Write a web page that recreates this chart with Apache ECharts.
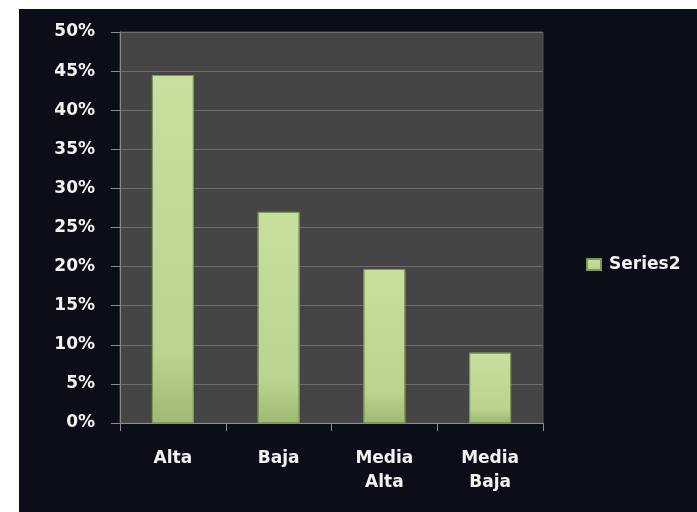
<!DOCTYPE html>
<html>
<head>
<meta charset="utf-8">
<script src="https://cdn.jsdelivr.net/npm/echarts@6/dist/echarts.min.js"></script>
<style>
  html, body { margin: 0; padding: 0; background: #ffffff; }
  #chart { position: absolute; left: 19px; top: 9px; width: 678px; height: 503px; background: #0b0d18; }
</style>
</head>
<body>
<div id="chart"></div>
<script>
// datos
var categories = ['Alta', 'Baja', 'Media\nAlta', 'Media\nBaja'];
var series2 = [44.5, 27.0, 19.7, 9.0];
var seriesName = 'Series2';

var myChart = echarts.init(document.getElementById('chart'));

var barColor = new echarts.graphic.LinearGradient(0, 0, 0, 1, [
    { offset: 0, color: '#c8df9f' },
    { offset: 0.8, color: '#bad390' },
    { offset: 1, color: '#9fb872' }
]);

var option = {
    backgroundColor: '#0b0d18',
    textStyle: { fontFamily: 'DejaVu Sans' },
    grid: {
        left: 101, top: 23, width: 423, height: 391,
        show: true, backgroundColor: '#454545', borderColor: '#555555', borderWidth: 1
    },
    legend: {
        data: [seriesName],
        orient: 'vertical',
        left: 567, top: 247,
        padding: 0,
        icon: 'rect',
        itemWidth: 14, itemHeight: 11,
        textStyle: { color: '#f2f2f2', fontSize: 17, fontWeight: 'bold', padding: [0, 0, 0, 3] }
    },
    xAxis: {
        type: 'category',
        data: categories,
        axisLine: { lineStyle: { color: '#8c8c8c' } },
        axisTick: { show: true, length: 8, lineStyle: { color: '#8c8c8c' } },
        axisLabel: { color: '#f2f2f2', fontSize: 17, fontWeight: 'bold', margin: 24, lineHeight: 24 }
    },
    yAxis: {
        type: 'value',
        min: 0, max: 50, interval: 5,
        axisLine: { show: true, lineStyle: { color: '#8c8c8c' } },
        axisTick: { show: true, length: 9, lineStyle: { color: '#8c8c8c' } },
        axisLabel: { color: '#f2f2f2', fontSize: 17, fontWeight: 'bold', margin: 25, formatter: '{value}%' },
        splitLine: { lineStyle: { color: '#6c6c6c', width: 1 } }
    },
    series: [{
        name: seriesName,
        type: 'bar',
        data: series2,
        barWidth: 42,
        itemStyle: { color: barColor, borderColor: '#7d9656', borderWidth: 1 }
    }]
};

myChart.setOption(option, true);
</script>
</body>
</html>
